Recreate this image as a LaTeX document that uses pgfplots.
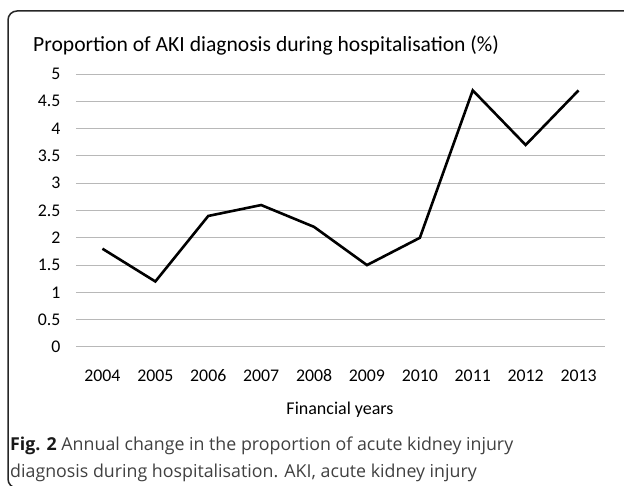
\documentclass[border=0pt]{standalone}
\usepackage{pgfplots}
\pgfplotsset{compat=1.18}
\usepackage{fontspec}
\setmainfont{Carlito}[Numbers=Lining]
\newfontfamily\capfont{Open Sans}
\definecolor{capgray}{HTML}{404040}
\begin{document}
\begin{tikzpicture}[x=1pt,y=1pt]
\useasboundingbox (0,0) rectangle (624,485);
\begin{scope}
\clip (0,0) rectangle (624,485);
\draw[line width=1.5pt, color=black!85, rounded corners=9pt] (640,474) -- (8,474) -- (8,-3) -- (40,-3);
\end{scope}
\begin{axis}[at={(76pt,138pt)}, anchor=south west, scale only axis,
  width=529pt, height=273pt,
  xmin=-0.5, xmax=9.5, ymin=0, ymax=5,
  ytick={0,0.5,1,1.5,2,2.5,3,3.5,4,4.5,5},
  yticklabels={0,0.5,1,1.5,2,2.5,3,3.5,4,4.5,5},
  xtick={0,1,2,3,4,5,6,7,8,9},
  xticklabels={2004,2005,2006,2007,2008,2009,2010,2011,2012,2013},
  ymajorgrids, grid style={color=black!28, line width=1pt},
  axis line style={draw=none}, major tick length=0pt,
  tick label style={font=\fontsize{17.8}{20}\selectfont},
  yticklabel style={xshift=-12pt},
  xticklabel style={yshift=-19pt},
  clip=false]
\addplot[black, line width=2.6pt, line join=miter, mark=none] coordinates {
(0,1.8) (1,1.2) (2,2.4) (3,2.6) (4,2.2) (5,1.5) (6,2.0) (7,4.7) (8,3.7) (9,4.7)};
\end{axis}
\node[anchor=west, inner sep=0pt, font=\fontsize{21.6}{24}\selectfont] at (33,440) {Proportion of AKI diagnosis during hospitalisation (\%)};
\node[anchor=center, inner sep=0pt, font=\fontsize{18}{21}\selectfont] at (340,75) {Financial years};
\node[anchor=west, inner sep=0pt, text=capgray, font=\capfont\fontsize{17.8}{21}\selectfont] at (10,39) {\textbf{\color{black!90}Fig. 2} Annual change in the proportion of acute kidney injury};
\node[anchor=west, inner sep=0pt, text=capgray, font=\capfont\fontsize{17.8}{21}\selectfont] at (10,12) {diagnosis during hospitalisation. AKI, acute kidney injury};
\end{tikzpicture}
\end{document}
